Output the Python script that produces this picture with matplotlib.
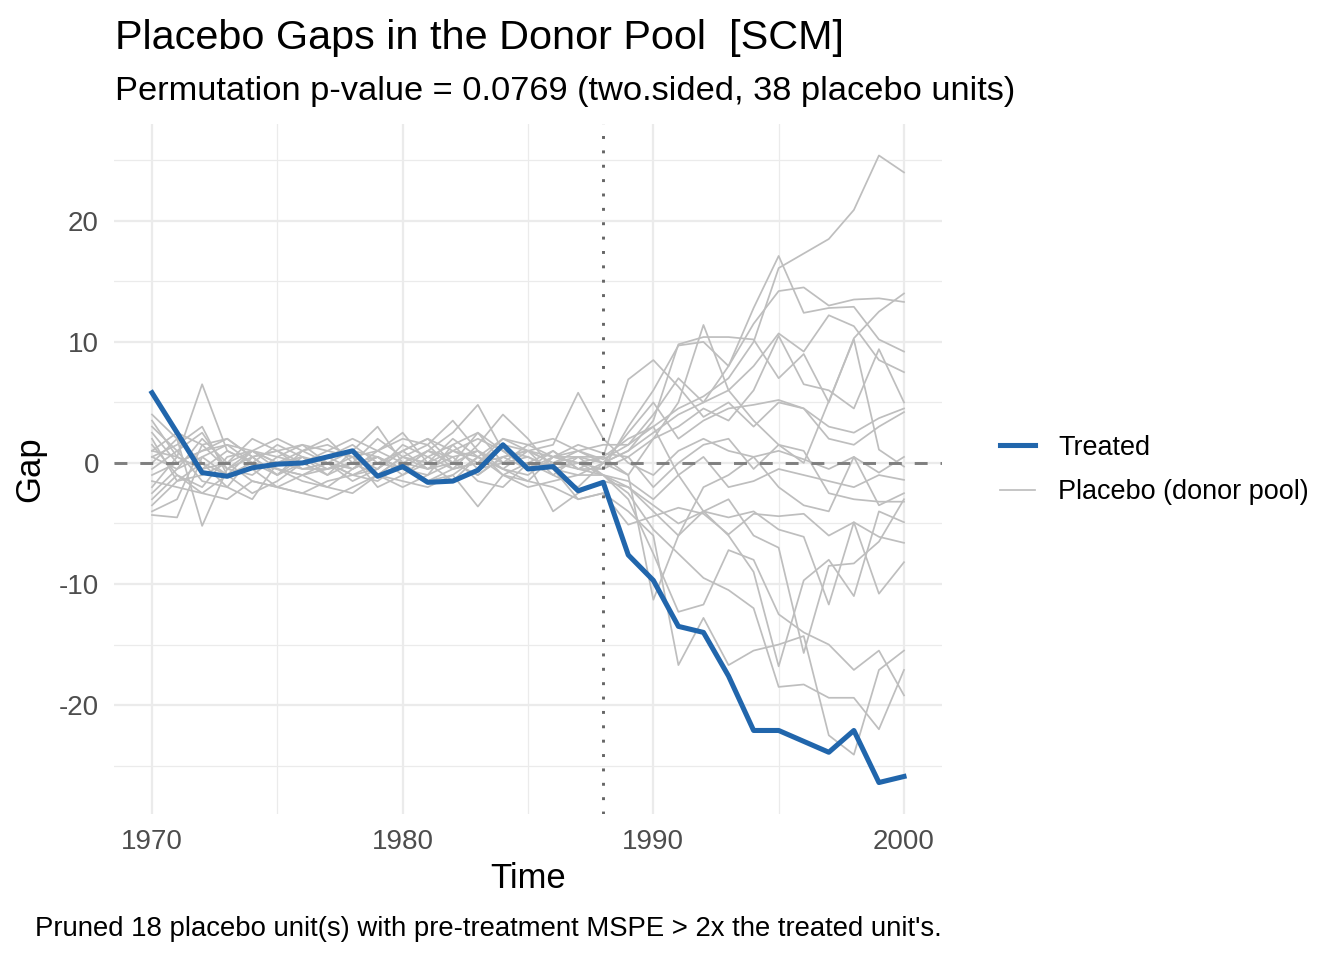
import matplotlib
matplotlib.use("Agg")
import matplotlib.pyplot as plt
from matplotlib.lines import Line2D
from matplotlib.ticker import MultipleLocator

plt.rcParams['font.family'] = ['Liberation Sans', 'DejaVu Sans']

years = list(range(1970, 2001))
treatment_year = 1988

treated_gap = [5.8, 2.5, -0.8, -1.1, -0.4, -0.1, 0.0, 0.5, 1.0, -1.1,
               -0.3, -1.6, -1.5, -0.6, 1.5, -0.5, -0.3, -2.3, -1.6,
               -7.6, -9.7, -13.5, -14.0, -17.6, -22.1, -22.1, -23.0, -23.9, -22.1, -26.4, -25.9]

# placebo gaps: pre-treatment part (1970-1988) and post-treatment part (1989-2000)
placebo_pre = [
    [3.0, 1.0, 2.5, -0.5, 0.5, -1.0, 0.0, 0.5, 1.5, 0.0, 1.0, -0.5, 0.5, 1.0, 0.0, 0.5, -0.5, 0.0, 0.5],
    [-2.0, 0.5, 6.5, 1.0, 0.0, 1.5, 0.5, -1.0, 0.0, 2.0, 0.5, -0.5, 1.0, 0.0, 1.5, 1.0, 0.0, 0.5, 0.0],
    [1.5, -1.0, -2.0, 0.5, 1.0, -0.5, -1.5, -2.0, -0.5, 0.5, -1.0, 0.0, 2.0, 0.5, -1.0, 0.0, 1.0, -0.5, -0.5],
    [-4.0, -3.0, 1.5, 2.0, 0.5, 1.0, 1.5, 1.0, 0.5, -0.5, 1.0, 2.0, 0.0, -1.0, 0.5, -0.5, 0.5, 1.0, 0.3],
    [4.0, 2.0, 0.0, -2.0, -3.0, 0.0, 1.0, 0.0, -1.0, -1.5, 0.0, 1.0, 2.5, 4.8, 1.0, 0.5, -0.5, -1.0, 0.0],
    [0.5, 1.5, 3.0, -1.0, -2.5, -1.5, 0.0, 0.5, -0.5, 1.0, 2.0, 1.5, -0.5, 0.0, 0.5, 1.0, -1.0, 0.5, 0.5],
    [-1.0, 0.0, 1.0, 1.5, 0.0, -0.5, -1.0, -2.0, -2.5, -1.0, 0.5, 0.0, 1.0, 2.0, 1.0, -0.5, 0.0, 1.0, 0.0],
    [2.0, -1.5, -1.0, 0.0, 2.0, 1.0, -0.5, 0.0, 1.0, 0.5, -0.5, -1.5, -1.0, 0.5, 2.0, 1.5, 0.5, 0.0, -0.5],
    [-3.0, -1.0, -2.5, -3.0, -1.5, -2.0, -2.5, -1.5, -1.0, 0.0, -0.5, 1.0, 0.5, -1.5, -2.0, 0.0, -1.0, -2.0, 0.0],
    [1.0, 0.5, -0.5, 0.0, 1.0, 0.5, 0.0, 1.0, 2.0, 1.0, 0.0, -0.5, 0.0, -1.0, 0.5, 1.0, 1.5, 5.8, 2.0],
    [-4.3, -4.5, 0.5, -1.0, 0.0, -1.0, 0.5, -0.5, 0.0, -1.0, -2.0, -1.0, 0.0, 1.0, -1.0, -2.0, -1.5, -1.0, -1.0],
    [0.0, 2.0, -5.2, -0.5, 1.0, 0.0, 0.5, 0.0, -1.0, -0.5, 1.5, 0.5, 1.5, -0.5, 0.0, 0.0, -4.0, -2.5, -1.5],
    [2.5, 0.0, 1.0, 2.0, 0.5, -1.0, 1.0, 1.5, 0.5, -2.0, -1.0, 0.5, -0.5, 0.0, 2.0, 1.0, 0.5, 1.5, 0.8],
    [-1.5, -2.0, -2.5, -1.0, -0.5, -2.0, -2.5, -3.0, -2.0, -1.0, -1.5, -2.0, -1.0, -3.6, -1.0, -1.5, -2.0, -3.0, -2.5],
    [0.5, -0.5, 0.5, 1.5, 1.0, 0.0, -0.5, -0.5, 0.5, 1.0, 2.5, 0.0, -1.5, 0.5, -0.5, 1.0, 0.0, -0.5, -1.0],
    [-2.5, -0.5, 2.0, 0.0, -1.5, -2.0, -1.0, -0.5, 0.0, -1.0, 0.5, 1.5, 3.5, 1.0, -0.5, -1.0, 0.5, 0.5, -1.0],
    [1.0, 2.5, 1.5, -0.5, -1.0, 0.5, 1.5, 0.0, -0.5, 0.5, -0.5, 1.0, 0.0, 2.5, 1.0, -0.5, 1.0, -0.5, 0.5],
    [-0.5, 1.0, -1.5, -2.0, 0.5, 1.0, 0.0, -1.0, 1.0, 3.0, 0.0, -1.5, -0.5, 1.5, 4.0, 2.0, -0.5, -3.0, -2.5],
    [3.5, 0.5, -0.5, 1.0, 0.0, -0.5, -1.0, 0.0, -1.5, -0.5, 1.0, 2.0, 1.0, 0.5, -0.5, -1.5, 0.5, 0.0, -1.0],
    [-3.5, -1.5, 0.0, -1.0, 1.0, 2.0, 1.0, 2.0, 0.0, 0.5, -0.5, -1.0, 1.5, 2.5, 0.0, 1.5, 2.0, 1.0, 1.5],
]
placebo_post = [
    [2.0, 3.0, 4.5, 5.5, 7.0, 10.0, 16.1, 17.3, 18.5, 20.9, 25.4, 24.0],
    [1.0, 2.5, 4.0, 5.0, 8.0, 12.8, 17.1, 12.4, 12.8, 12.9, 10.2, 9.2],
    [3.0, 6.0, 9.7, 10.0, 8.0, 11.5, 14.2, 14.5, 13.0, 13.5, 13.6, 13.3],
    [1.5, 4.0, 7.0, 5.0, 6.0, 8.0, 10.7, 9.2, 12.2, 11.3, 8.5, 7.5],
    [-1.0, 2.0, 5.0, 11.4, 6.0, 3.5, 1.5, 0.0, 5.1, 10.2, 1.1, -0.3],
    [6.9, 8.5, 6.3, 3.8, 5.0, 3.0, 5.0, 4.5, 3.0, 2.5, 3.7, 4.5],
    [1.0, 3.5, 9.8, 10.4, 10.4, 10.2, 7.0, 9.0, 5.0, 10.3, 12.5, 14.0],
    [0.5, 2.0, 3.0, 4.5, 3.5, 6.0, 10.5, 6.5, 6.0, 4.5, 9.4, 5.0],
    [2.5, 5.0, 2.0, 3.5, 4.5, 4.8, 5.2, 4.5, 2.0, 1.5, 3.0, 4.2],
    [0.0, -1.0, 1.0, 2.0, 1.0, 0.5, 1.0, 0.3, -0.5, 0.5, -0.8, 0.5],
    [-1.5, -3.0, -1.0, 0.5, -2.0, -1.5, -0.5, -1.0, -1.5, -2.0, -1.0, -1.4],
    [-2.0, -4.0, -6.0, -2.0, -1.0, 0.5, -2.0, -3.5, -4.0, 0.5, -3.5, -2.5],
    [0.5, -2.0, 0.0, 1.5, 2.0, -0.5, 1.5, 1.0, -2.5, -3.0, -3.2, -3.2],
    [-5.1, -4.4, -3.7, -4.2, -5.9, -4.2, -4.4, -4.2, -6.0, -4.9, -6.1, -6.6],
    [-2.0, -3.5, -5.0, -4.0, -4.5, -4.0, -5.5, -6.1, -11.7, -4.9, -10.8, -8.2],
    [-3.0, -7.5, -12.3, -11.7, -7.2, -8.0, -12.5, -14.0, -15.0, -17.1, -15.5, -19.2],
    [-1.0, -11.3, -6.0, -4.0, -6.0, -9.0, -16.8, -9.7, -8.0, -11.0, -4.0, -4.9],
    [-4.0, -6.0, -16.7, -12.8, -16.7, -15.5, -15.0, -14.3, -22.5, -24.1, -17.1, -15.5],
    [-2.5, -5.5, -7.5, -9.5, -10.5, -12.0, -18.5, -18.3, -19.4, -19.4, -22.0, -17.1],
    [1.5, 3.0, -1.0, -4.0, -3.0, -6.0, -7.0, -15.7, -8.5, -8.3, -6.5, -3.0],
]

title = "Placebo Gaps in the Donor Pool  [SCM]"
subtitle = "Permutation p-value = 0.0769 (two.sided, 38 placebo units)"
caption = "Pruned 18 placebo unit(s) with pre-treatment MSPE > 2x the treated unit's."
legend_labels = ["Treated", "Placebo (donor pool)"]

TREATED_COL = "#2166AC"
PLACEBO_COL = "#BEBEBE"

fig = plt.figure(figsize=(7, 5), dpi=192)
W, H = 1344, 960
ax = fig.add_axes([114.4 / W, 1 - 814 / H, (941.6 - 114.4) / W, (814 - 124) / H])

for pre, post in zip(placebo_pre, placebo_post):
    ax.plot(years, pre + post, color=PLACEBO_COL, lw=0.65, zorder=2, solid_joinstyle='round')

ax.axhline(0, color="#7F7F7F", lw=1.1, dashes=(4.4, 4.4), zorder=3)
ax.axvline(treatment_year, color="#666666", lw=1.1, dashes=(1.0, 3.9), zorder=3)
ax.plot(years, treated_gap, color=TREATED_COL, lw=1.9, zorder=4, solid_joinstyle='round')

ax.set_xlim(1968.5, 2001.5)
ax.set_ylim(-29.0, 28.0)
ax.xaxis.set_major_locator(MultipleLocator(10))
ax.xaxis.set_minor_locator(MultipleLocator(5))
ax.yaxis.set_major_locator(MultipleLocator(10))
ax.yaxis.set_minor_locator(MultipleLocator(5))
ax.grid(which='major', color="#EBEBEB", lw=0.85, zorder=0)
ax.grid(which='minor', color="#EBEBEB", lw=0.45, zorder=0)
ax.set_axisbelow(True)
for s in ax.spines.values():
    s.set_visible(False)
ax.tick_params(which='both', length=0, labelsize=10.4, labelcolor="#4D4D4D")
ax.tick_params(axis='x', pad=5.5)
ax.tick_params(axis='y', pad=5.8)
ax.set_xticks([1970, 1980, 1990, 2000])
ax.set_xticklabels([str(v) for v in [1970, 1980, 1990, 2000]])
ax.set_yticks([-20, -10, 0, 10, 20])
ax.set_yticklabels(["-20", "-10", "0", "10", "20"])

fig.text(30 / W, 1 - 469 / H, "Gap", rotation=90, ha='center', va='center', fontsize=13)
fig.text(528 / W, 1 - 878 / H, "Time", ha='center', va='center', fontsize=13)
fig.text(115 / W, 1 - 49 / H, title, ha='left', va='baseline', fontsize=15.5)
fig.text(115 / W, 1 - 100 / H, subtitle, ha='left', va='baseline', fontsize=12.9)
fig.text(941.6 / W, 1 - 936 / H, caption, ha='right', va='baseline', fontsize=10.3)

handles = [Line2D([], [], color=TREATED_COL, lw=1.9),
           Line2D([], [], color=PLACEBO_COL, lw=0.65)]
fig.legend(handles, legend_labels, loc='center left', bbox_to_anchor=(1000 / W, 1 - 470 / H),
           frameon=False, fontsize=10.15, handlelength=1.3, handletextpad=0.85, labelspacing=0.7,
           borderpad=0.0, borderaxespad=0.0)

fig.savefig("out.png", dpi=192)
